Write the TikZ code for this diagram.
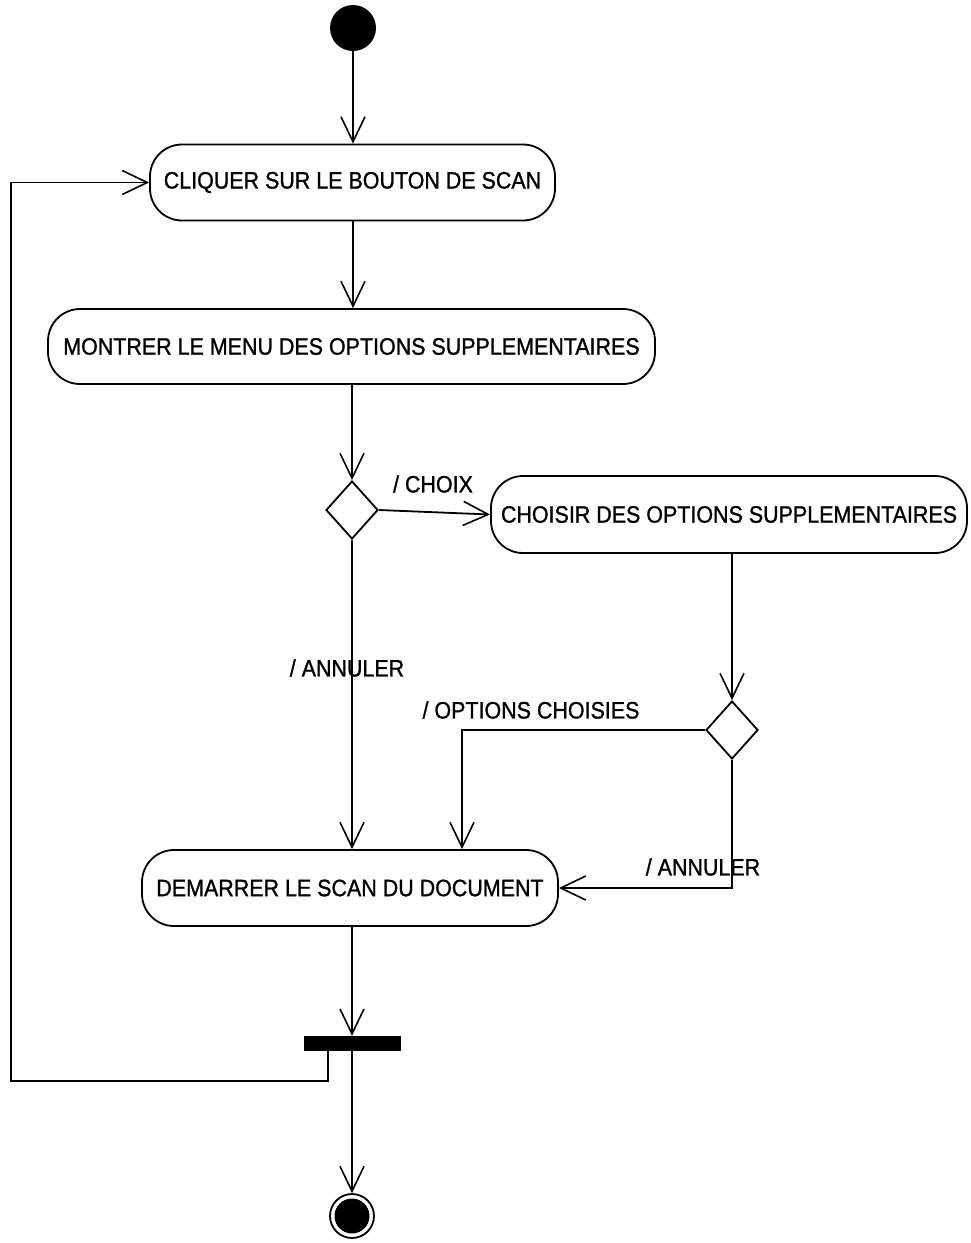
\documentclass[tikz,border=0pt]{standalone}
\usepackage{fontspec}
\setmainfont{Liberation Sans}
\newfontfamily\labelfont{Liberation Sans}[FakeBold=1.1,FakeStretch=0.905]
\usetikzlibrary{arrows.meta,shapes.geometric}

\tikzset{
  flow/.style={line width=1.8pt},
  arr/.style={flow,-{Straight Barb[length=25pt,width=24pt,line width=1.6pt]}},
  activity/.style={draw,line width=1.8pt,rounded corners=32pt,inner sep=0pt,
    font=\labelfont\fontsize{23.7}{27}\selectfont},
  decision/.style={draw,diamond,line width=1.8pt,inner sep=0pt,
    minimum width=52pt,minimum height=58pt},
  guard/.style={font=\labelfont\fontsize{23.7}{27}\selectfont,inner sep=0pt},
}

\begin{document}
\begin{tikzpicture}[x=1pt,y=-1pt]
  \useasboundingbox (0,0) rectangle (970,1243);

  % initial and final states
  \node[circle,fill=black,minimum size=46pt,inner sep=0pt] (start) at (353,28) {};
  \node[circle,draw,line width=1.8pt,minimum size=44pt,inner sep=0pt] (stop) at (352,1216) {};
  \node[circle,fill=black,minimum size=35pt,inner sep=0pt] (stopdot) at (352,1216) {};

  % activities
  \node[activity,minimum width=405pt,minimum height=76pt] (box1) at (352.5,182.5)
    {CLIQUER SUR LE BOUTON DE SCAN};
  \node[activity,minimum width=607pt,minimum height=75pt] (box2) at (351.5,346.5)
    {MONTRER LE MENU DES OPTIONS SUPPLEMENTAIRES};
  \node[activity,minimum width=476pt,minimum height=77pt] (box3) at (729,514.5)
    {CHOISIR DES OPTIONS SUPPLEMENTAIRES};
  \node[activity,minimum width=416pt,minimum height=76pt] (box4) at (350,888)
    {DEMARRER LE SCAN DU DOCUMENT};

  % decisions
  \node[decision] (d1) at (352,510) {};
  \node[decision] (d2) at (732,730) {};

  % synchronisation bar
  \node[rectangle,fill=black,minimum width=97pt,minimum height=15pt,inner sep=0pt] (bar) at (352,1043.5) {};

  % loop-back route
  \coordinate (loopA) at (328,1081);
  \coordinate (loopB) at (11,1081);
  \coordinate (optA) at (462,730);
  \coordinate (canB) at (732,888);

  % transitions
  \draw[arr] (start) -- (start |- box1.north);
  \draw[arr] (box1.south -| start) -- (box2.north -| start);
  \draw[arr] (box2.south -| d1) -- (d1.north);
  \draw[arr] (d1.east) -- (box3.west);
  \draw[arr] (d1.south) -- (d1.south |- box4.north);
  \draw[arr] (box3.south -| d2) -- (d2.north);
  \draw[arr] (d2.west) -- (optA) -- (optA |- box4.north);
  \draw[arr] (d2.south) -- (canB) -- (box4.east);
  \draw[arr] (box4.south -| bar) -- (bar.north);
  \draw[arr] (bar.south) -- (stop.north);
  \draw[arr] (bar.south -| loopA) -- (loopA) -- (loopB) -- (loopB |- box1.west) -- (box1.west);

  % guards
  \node[guard] (gchoix) at (433,484) {/ CHOIX};
  \node[guard] (gann1) at (347,668) {/ ANNULER};
  \node[guard] (gopt) at (531,710) {/ OPTIONS CHOISIES};
  \node[guard] (gann2) at (703,867) {/ ANNULER};
\end{tikzpicture}
\end{document}
